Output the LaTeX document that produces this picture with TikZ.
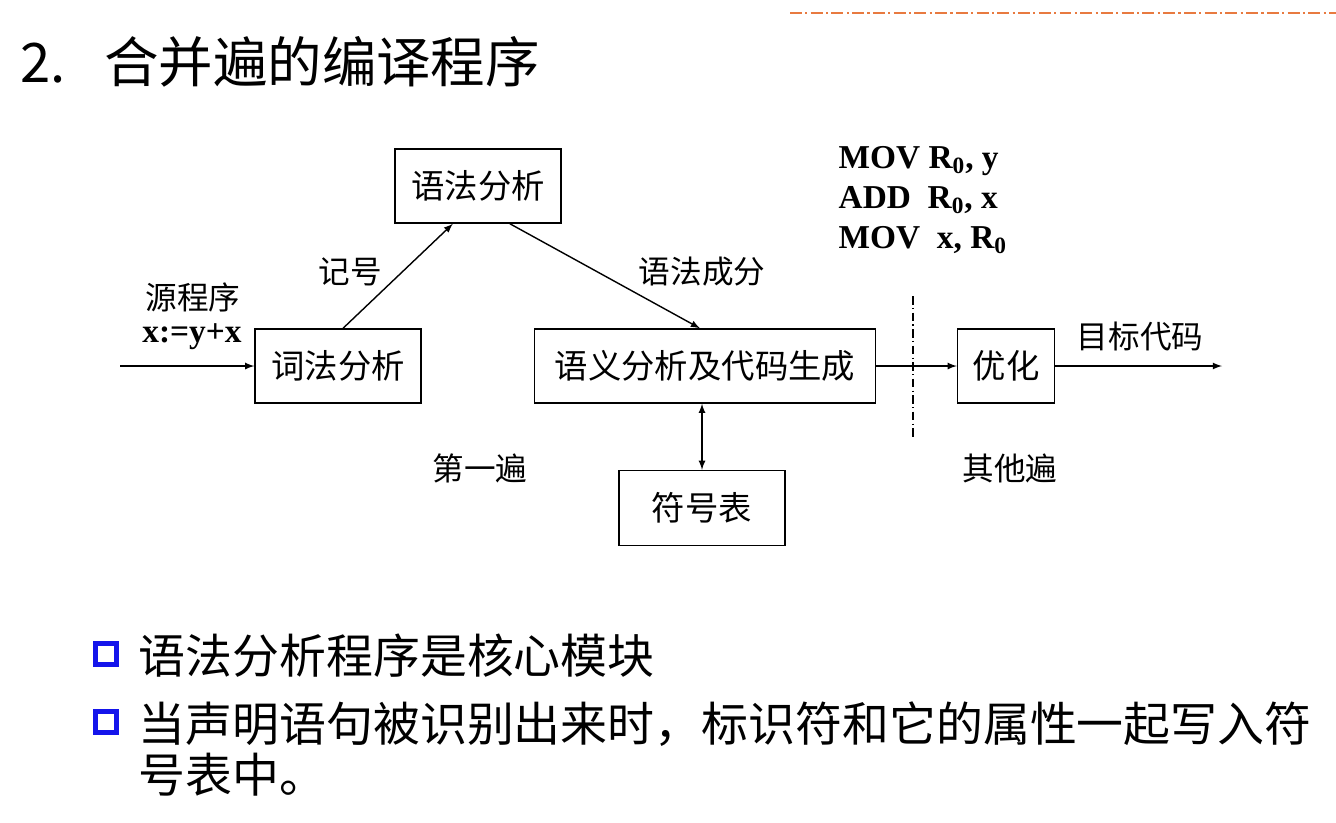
\documentclass[tikz,border=0pt]{standalone}
\usepackage{fontspec}
\setmainfont{Liberation Serif}
\newfontfamily\cjk{Noto Sans CJK SC}
\usepackage{xcolor}
\usetikzlibrary{calc}

\definecolor{rulecolor}{RGB}{232,122,64}
\definecolor{bulletblue}{RGB}{20,20,235}

\begin{document}
\begin{tikzpicture}[x=0.02cm,y=-0.02cm,>=latex,line width=0.8pt,
    box/.style={draw,inner sep=0pt,minimum height=1.48cm,font=\cjk\fontsize{19}{22}\selectfont},
    lbl/.style={inner sep=0pt,font=\cjk\fontsize{18}{22}\selectfont},
    bullet/.style={draw=bulletblue,line width=2.6pt,inner sep=0pt,minimum size=0.42cm},
    item/.style={inner sep=0pt,anchor=west,font=\cjk\fontsize{26.7}{30}\selectfont}]
    \useasboundingbox (0,0) rectangle (1336,822);

    % Header rule and title
    \draw [rulecolor, line width=1.2pt, dash pattern=on 6.8pt off 1.9pt on 1.2pt off 1.9pt] (790,13) -- (1336,13);
    \node [inner sep=0pt, anchor=west, font=\cjk\fontsize{31}{36}\selectfont] (title) at (20,62) {2.\hspace{0.7em}合并遍的编译程序};

    % Draw boxes
    \node [box, minimum width=3.32cm] (lex) at (338,366) {词法分析};
    \node [box, minimum width=3.32cm] (syn) at (478,186) {语法分析};
    \node [box, minimum width=6.82cm] (sem) at (705,366) {语义分析及代码生成};
    \node [box, minimum width=3.32cm, minimum height=1.5cm] (symtab) at (702,508) {符号表};
    \node [box, minimum width=1.94cm] (opt) at (1006,366) {优化};

    % Free ends
    \coordinate (src) at (120,366);
    \coordinate (tgt) at (1222,366);
    \coordinate (sepTop) at (913,296);
    \coordinate (sepBot) at (913,440);

    % Draw connectors
    \draw [->] (src) -- (lex.west);
    \draw [->] ($(lex.north)+(5,0)$) -- ($(syn.south west)!0.35!(syn.south east)$);
    \draw [->] ($(syn.south west)!0.69!(syn.south east)$) -- ($(sem.north)+(-5,0)$);
    \draw [<->] (sem.south -| symtab.north) -- (symtab.north);
    \draw [->] (sem.east) -- (opt.west);
    \draw [->] (opt.east) -- (tgt);

    % Pass separator
    \draw [line width=0.6pt, dash pattern=on 5pt off 1.8pt on 0.8pt off 1.8pt] (sepTop) -- (sepBot);

    % Label connectors
    \node [lbl] (srcname) at (193,297) {源程序};
    \node [inner sep=0pt, font=\bfseries\fontsize{19}{22}\selectfont] (srccode) at (192,337) {x:=y+x};
    \node [lbl] (token) at (350,272) {记号};
    \node [lbl] (phrase) at (702,272) {语法成分};
    \node [lbl] (target) at (1140,337) {目标代码};
    \node [inner sep=0pt, anchor=north west, align=left, font=\bfseries\fontsize{19}{22.7}\selectfont] (asm) at (838,146)
        {MOV R\textsubscript{0}, y\\ADD\ \ R\textsubscript{0}, x\\MOV\ \ x, R\textsubscript{0}};

    % Label passes
    \node [lbl] (pass1) at (480,468) {第一遍};
    \node [lbl] (passn) at (1010,468) {其他遍};

    % Bullet items
    \node [bullet] (b1) at (106,654) {};
    \node [bullet] (b2) at (106,722) {};
    \node [item] (t1) at (138,656) {语法分析程序是核心模块};
    \node [item] (t2) at (138,724) {当声明语句被识别出来时，标识符和它的属性一起写入符};
    \node [item] (t3) at (138,775) {号表中。};
\end{tikzpicture}
\end{document}
